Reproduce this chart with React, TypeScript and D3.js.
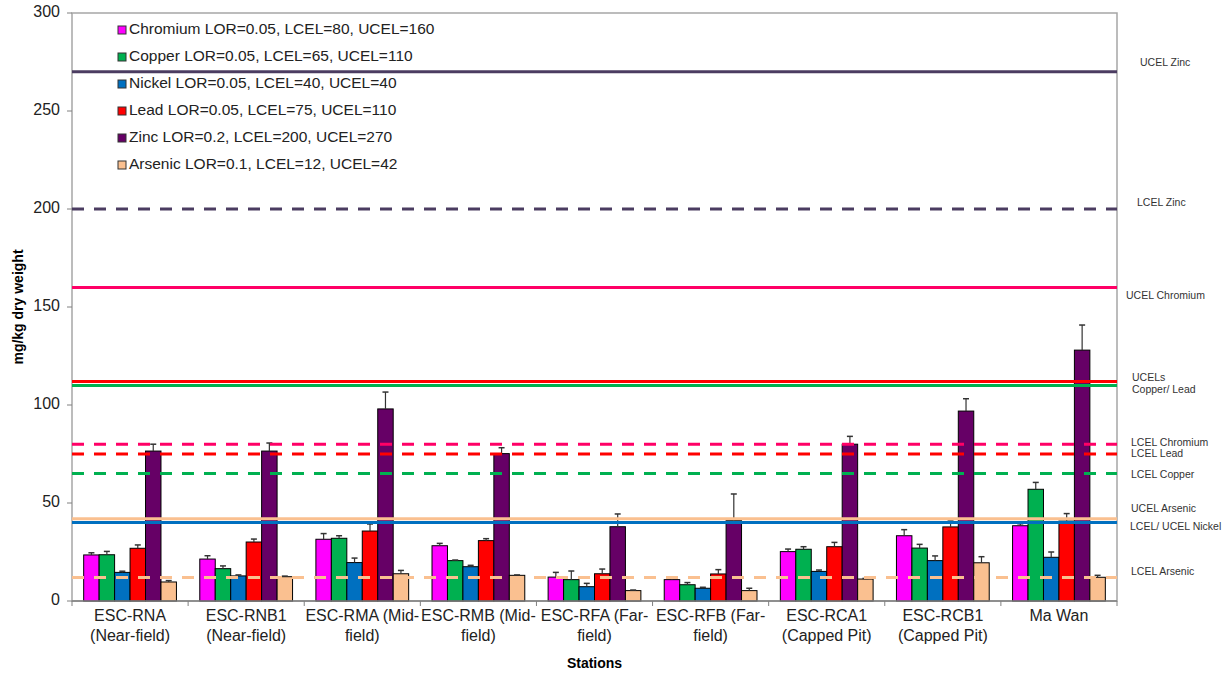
import React from 'react';
import * as d3 from 'd3';

const stations = ['RNA', 'RNB1', 'RMA', 'RMB', 'RFA', 'RFB', 'RCA1', 'RCB1', 'MaWan'];
const stationLines = [
  ['ESC-RNA', '(Near-field)'],
  ['ESC-RNB1', '(Near-field)'],
  ['ESC-RMA (Mid-', 'field)'],
  ['ESC-RMB (Mid-', 'field)'],
  ['ESC-RFA (Far-', 'field)'],
  ['ESC-RFB (Far-', 'field)'],
  ['ESC-RCA1', '(Capped Pit)'],
  ['ESC-RCB1', '(Capped Pit)'],
  ['Ma Wan'],
];

const metals = ['Chromium', 'Copper', 'Nickel', 'Lead', 'Zinc', 'Arsenic'];
const metalColors = ['#ff00ff', '#00b050', '#0070c0', '#ff0000', '#660066', '#fac090'];
const legendLabels = [
  'Chromium LOR=0.05, LCEL=80, UCEL=160',
  'Copper LOR=0.05, LCEL=65, UCEL=110',
  'Nickel LOR=0.05, LCEL=40, UCEL=40',
  'Lead LOR=0.05, LCEL=75, UCEL=110',
  'Zinc LOR=0.2, LCEL=200, UCEL=270',
  'Arsenic LOR=0.1, LCEL=12, UCEL=42',
];

// mean values per metal, one per station
const chromium = [23.5, 21.4, 31.5, 28.2, 12.2, 10.9, 25.2, 33.3, 38.4];
const copper = [23.6, 16.5, 32.0, 20.6, 10.9, 8.3, 26.4, 27.0, 57.0];
const nickel = [14.6, 12.8, 19.6, 17.5, 7.3, 6.5, 15.1, 20.6, 22.3];
const lead = [26.9, 30.1, 35.7, 30.8, 13.9, 13.8, 27.7, 37.8, 40.8];
const zinc = [76.5, 76.5, 98.0, 75.2, 37.9, 41.0, 80.0, 96.9, 128.0];
const arsenic = [9.7, 12.4, 13.9, 13.1, 5.3, 5.3, 11.2, 19.5, 12.1];

// upper end of error bars
const chromiumErr = [24.6, 23.1, 34.4, 29.4, 14.6, 12.2, 26.5, 36.4, 39.4];
const copperErr = [25.3, 17.9, 33.3, 20.9, 15.3, 9.4, 27.7, 28.9, 60.5];
const nickelErr = [15.2, 13.3, 21.9, 18.2, 9.0, 7.0, 15.8, 23.0, 25.0];
const leadErr = [28.6, 31.6, 39.3, 31.8, 16.3, 16.0, 29.9, 40.8, 44.6];
const zincErr = [80.0, 80.6, 106.6, 78.2, 44.4, 54.6, 84.0, 103.2, 140.8];
const arsenicErr = [10.4, 12.7, 15.6, 13.3, 5.6, 6.5, 11.5, 22.6, 13.1];

const seriesValues = [chromium, copper, nickel, lead, zinc, arsenic];
const seriesErrors = [chromiumErr, copperErr, nickelErr, leadErr, zincErr, arsenicErr];

// guideline levels
const limitValues = [270, 200, 160, 112, 110, 80, 75, 65, 42, 40, 12];
const limitColors = ['#4b3c61', '#4b3c61', '#ff0066', '#ff0000', '#00b050', '#ff0066', '#ff0000', '#00b050', '#fac090', '#0070c0', '#fac090'];
const limitDashed = [false, true, false, false, false, true, true, true, false, false, true];

const limitLabels = ['UCEL Zinc', 'LCEL Zinc', 'UCEL Chromium', 'UCELs', 'Copper/ Lead', 'LCEL Chromium', 'LCEL Lead', 'LCEL Copper', 'UCEL Arsenic', 'LCEL/ UCEL Nickel', 'LCEL Arsenic'];
const limitLabelValues = [274.5, 203, 155.6, 113.8, 107.7, 80.3, 75, 64.3, 46.9, 37.8, 14.8];

const yTicks = [0, 50, 100, 150, 200, 250, 300];

const W = 1231;
const H = 680;
const plot = { left: 72, right: 1117, top: 13, bottom: 601 };
const font = 'Arial, "Liberation Sans", sans-serif';

export default function App() {
  const x = d3.scaleBand<string>().domain(stations).range([plot.left, plot.right]).padding(0);
  const xm = d3.scaleBand<string>().domain(metals).range([0, x.bandwidth()]).paddingInner(0).paddingOuter(0.755);
  const y = d3.scaleLinear().domain([0, 300]).range([plot.bottom, plot.top]);
  const bw = xm.bandwidth();
  const labelX = [1140, 1137, 1126, 1132, 1132, 1131, 1131, 1131, 1131, 1130, 1131];

  return (
    <svg width={W} height={H} style={{ position: 'absolute', left: 0, top: 0, background: '#fff' }} fontFamily={font}>
      {/* plot frame */}
      <rect x={plot.left} y={plot.top} width={plot.right - plot.left} height={plot.bottom - plot.top} fill="none" stroke="#a6a6a6" strokeWidth={1.5} />

      {/* bars */}
      {stations.map((s, i) => (
        <g key={s}>
          {metals.map((m, j) => {
            const bx = x(s)! + xm(m)!;
            const v = seriesValues[j][i];
            const e = seriesErrors[j][i];
            return (
              <g key={m}>
                <rect x={bx} y={y(v)} width={bw} height={y(0) - y(v)} fill={metalColors[j]} stroke="#000" strokeWidth={1} />
                <line x1={bx + bw / 2} x2={bx + bw / 2} y1={y(v)} y2={y(e)} stroke="#333" strokeWidth={1.2} />
                <line x1={bx + bw / 2 - 3} x2={bx + bw / 2 + 3} y1={y(e)} y2={y(e)} stroke="#333" strokeWidth={1.5} />
              </g>
            );
          })}
        </g>
      ))}

      {/* guideline levels */}
      {limitValues.map((v, i) => (
        <line
          key={i}
          x1={plot.left}
          x2={plot.right}
          y1={y(v)}
          y2={y(v)}
          stroke={limitColors[i]}
          strokeWidth={3}
          strokeDasharray={limitDashed[i] ? '12,10' : undefined}
        />
      ))}

      {/* y axis */}
      {yTicks.map((t) => (
        <g key={t}>
          <line x1={plot.left - 5} x2={plot.left} y1={y(t)} y2={y(t)} stroke="#808080" />
          <text x={plot.left - 12} y={y(t)} textAnchor="end" dominantBaseline="middle" fontSize={16} fill="#222">{t}</text>
        </g>
      ))}
      <text transform={`translate(19,${(plot.top + plot.bottom) / 2}) rotate(-90)`} textAnchor="middle" dominantBaseline="middle" fontSize={14} fontWeight="bold" fill="#000">mg/kg dry weight</text>

      {/* x axis */}
      <line x1={plot.left} x2={plot.right} y1={plot.bottom} y2={plot.bottom} stroke="#808080" strokeWidth={1.5} />
      {stations.map((s, i) => (
        <g key={s}>
          <line x1={x(s)!} x2={x(s)!} y1={plot.bottom} y2={plot.bottom + 5} stroke="#808080" />
          {stationLines[i].map((ln, k) => (
            <text key={k} x={x(s)! + x.bandwidth() / 2} y={617 + k * 20} textAnchor="middle" dominantBaseline="middle" fontSize={16} fill="#222">{ln}</text>
          ))}
        </g>
      ))}
      <line x1={plot.right} x2={plot.right} y1={plot.bottom} y2={plot.bottom + 5} stroke="#808080" />
      <text x={(plot.left + plot.right) / 2} y={664} textAnchor="middle" dominantBaseline="middle" fontSize={14} fontWeight="bold" fill="#000">Stations</text>

      {/* legend */}
      {legendLabels.map((l, i) => (
        <g key={l} transform={`translate(118,${30 + i * 27})`}>
          <rect x={0} y={-4} width={8} height={8} fill={metalColors[i]} stroke="#333" strokeWidth={1} />
          <text x={11} y={0} dominantBaseline="middle" fontSize={15.5} fill="#222">{l}</text>
        </g>
      ))}

      {/* guideline labels */}
      {limitLabels.map((l, i) => (
        <text key={l} x={labelX[i]} y={y(limitLabelValues[i])} dominantBaseline="middle" fontSize={10.5} fill="#333">{l}</text>
      ))}
    </svg>
  );
}
